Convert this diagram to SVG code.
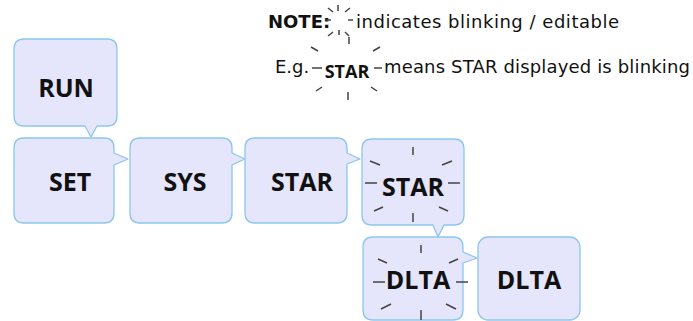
<svg xmlns="http://www.w3.org/2000/svg" width="693" height="321" viewBox="0 0 693 321">
  <style>
    .box { fill: #e5e5fb; stroke: #8cc6ee; stroke-width: 1.3; stroke-linejoin: round; }
    .lbl { font-family: "Open Sans", "Liberation Sans", sans-serif; font-weight: 700; font-size: 25px; fill: #111; text-anchor: middle; }
    .note { font-family: "DejaVu Sans", "Liberation Sans", sans-serif; font-size: 18px; fill: #111; }
    .ray { stroke: #444; stroke-width: 1.5; stroke-linecap: butt; fill: none; }
  </style>

  <!-- legend -->
  <g id="legend">
    <text class="note" x="268" y="28" font-weight="700" font-size="15.5">NOTE:</text>
    <path class="ray" d="M338 5V11 M328 8L333 12 M350 8L345 12 M326 20H331 M348 20H353 M328 36L333 32 M339 30V35 M345 32L349 36 M349 37V44"/>
    <text class="note" x="356" y="28" textLength="263" lengthAdjust="spacing">indicates blinking / editable</text>
    <text class="note" x="275" y="73">E.g.</text>
    <path class="ray" d="M312 68H322 M311 47L318 51 M380 47L373 51 M374 68H382 M316 91L322 87 M348 92V100 M377 91L371 87"/>
    <text x="347" y="78" font-family="Open Sans, Liberation Sans, sans-serif" font-weight="700" font-size="18" fill="#111" text-anchor="middle">STAR</text>
    <text class="note" x="384" y="73" textLength="306" lengthAdjust="spacing">means STAR displayed is blinking</text>
  </g>

  <!-- RUN, tail pointing down to SET -->
  <g id="run">
    <path class="box" d="M24 39H107Q117 39 117 49V116Q117 126 107 126H97L91 137L85 126H24Q14 126 14 116V49Q14 39 24 39Z"/>
    <text class="lbl" x="66" y="97">RUN</text>
  </g>

  <!-- SET -->
  <g id="set">
    <path class="box" d="M24 138H104Q114 138 114 148V153L128 159L114 165V213Q114 223 104 223H24Q14 223 14 213V148Q14 138 24 138Z"/>
    <text class="lbl" x="70" y="191">SET</text>
  </g>

  <!-- SYS -->
  <g id="sys">
    <path class="box" d="M140 138H222Q232 138 232 148V153L245 159L232 165V213Q232 223 222 223H140Q130 223 130 213V148Q130 138 140 138Z"/>
    <text class="lbl" x="185" y="191">SYS</text>
  </g>

  <!-- STAR -->
  <g id="star">
    <path class="box" d="M255 138H337Q347 138 347 148V153L360 159L347 164V213Q347 223 337 223H255Q245 223 245 213V148Q245 138 255 138Z"/>
    <text class="lbl" x="302" y="191">STAR</text>
  </g>

  <!-- STAR, blinking -->
  <g id="star-blink">
    <path class="box" d="M372 139H454Q464 139 464 149V215Q464 225 454 225H444L438 237L433 225H372Q362 225 362 215V149Q362 139 372 139Z"/>
    <path class="ray" d="M413 147V155 M413 213V222 M370 161L380 165 M452 161L442 165 M365 183H377 M448 183H460 M374 211L383 207 M448 211L439 207"/>
    <text class="lbl" x="413" y="196">STAR</text>
  </g>

  <!-- DLTA, blinking -->
  <g id="dlta-blink">
    <path class="box" d="M373 237H453Q463 237 463 247V252L477 258L463 263V310Q463 320 453 320H373Q363 320 363 310V247Q363 237 373 237Z"/>
    <path class="ray" d="M421 245V253 M421 310V320 M378 259L387 263 M458 259L449 263 M373 282H385 M456 282H468 M381 309L391 304 M456 309L446 304"/>
    <text class="lbl" x="418" y="289">DLTA</text>
  </g>

  <!-- DLTA -->
  <g id="dlta">
    <rect class="box" x="478" y="237" width="102" height="83" rx="10"/>
    <text class="lbl" x="529" y="289">DLTA</text>
  </g>
</svg>
